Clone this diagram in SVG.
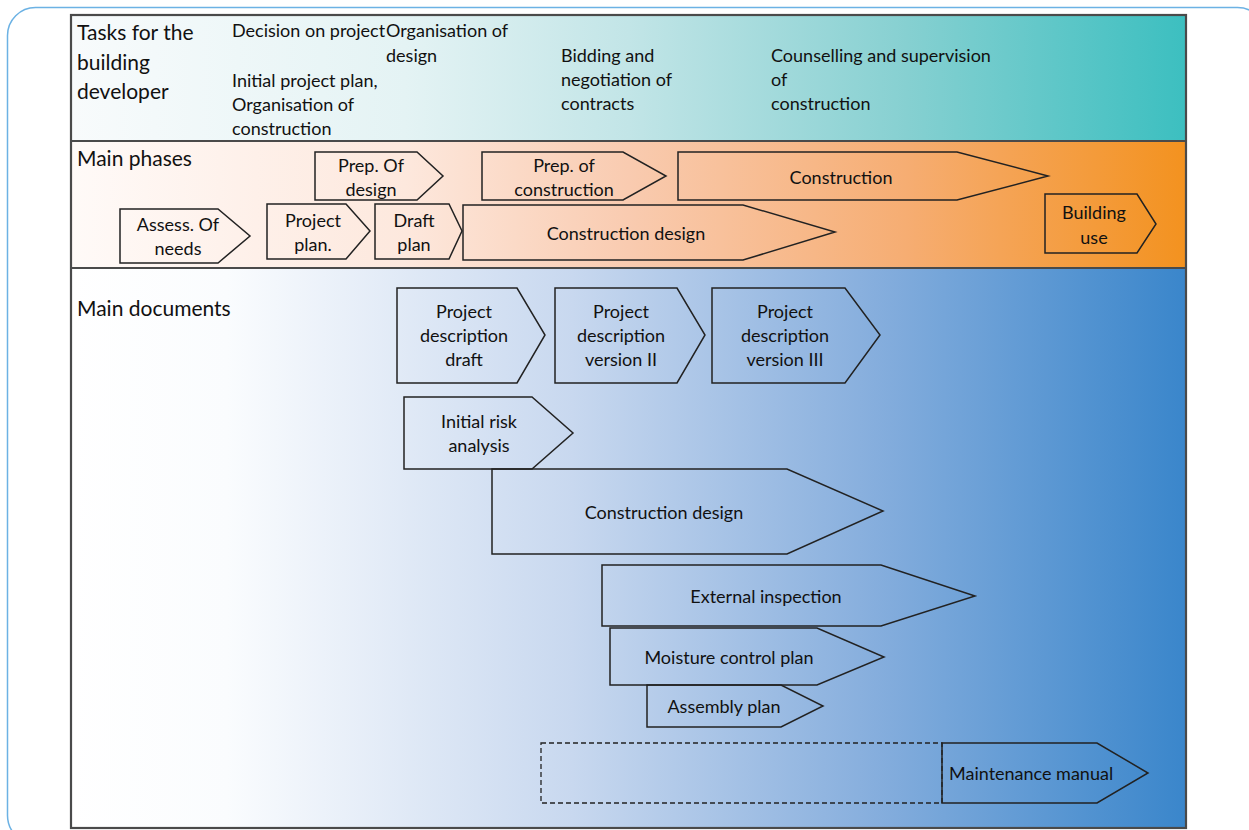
<svg xmlns="http://www.w3.org/2000/svg" width="1249" height="830" viewBox="0 0 1249 830">
<defs>
<linearGradient id="gTeal" gradientUnits="userSpaceOnUse" x1="71" y1="0" x2="1186" y2="0">
<stop offset="0" stop-color="#f8fbfc"/><stop offset="0.3" stop-color="#e4f3f4"/><stop offset="0.5" stop-color="#c2e5e7"/><stop offset="0.75" stop-color="#86d0d1"/><stop offset="1" stop-color="#3cbfc0"/>
</linearGradient>
<linearGradient id="gOrange" gradientUnits="userSpaceOnUse" x1="71" y1="0" x2="1186" y2="0">
<stop offset="0" stop-color="#fffaf8"/><stop offset="0.3" stop-color="#fde8dd"/><stop offset="0.5" stop-color="#f9cbb0"/><stop offset="0.75" stop-color="#f6ad72"/><stop offset="1" stop-color="#f3921f"/>
</linearGradient>
<linearGradient id="gBlue" gradientUnits="userSpaceOnUse" x1="71" y1="0" x2="1186" y2="0">
<stop offset="0" stop-color="#ffffff"/><stop offset="0.14" stop-color="#fafcfe"/><stop offset="0.45" stop-color="#c8d8ef"/><stop offset="0.72" stop-color="#86aedd"/><stop offset="1" stop-color="#3a86cb"/>
</linearGradient>
</defs>
<style>
text{font-family:Lato,"Liberation Sans",sans-serif;fill:#111;font-size:18px}
.h{font-size:21px}
.c{text-anchor:middle}
.s{fill:none;stroke:#222;stroke-width:1.5;stroke-linejoin:miter}
.d{fill:none;stroke:#222;stroke-width:1.3;stroke-dasharray:5 3}
</style>
<rect x="0" y="0" width="1249" height="830" fill="#ffffff"/>
<rect x="7.5" y="7.5" width="1258" height="836" rx="28" fill="none" stroke="#6cb2e4" stroke-width="1.5"/>
<g id="bands">
<rect x="71" y="15" width="1115" height="126" fill="url(#gTeal)"/>
<rect x="71" y="141" width="1115" height="127" fill="url(#gOrange)"/>
<rect x="71" y="268" width="1115" height="560" fill="url(#gBlue)"/>
<rect x="71" y="15" width="1115" height="813" fill="none" stroke="#4a4a4a" stroke-width="2.2"/>
<line x1="71" y1="141" x2="1186" y2="141" stroke="#4a4a4a" stroke-width="2"/>
<line x1="71" y1="268" x2="1186" y2="268" stroke="#4a4a4a" stroke-width="2"/>
</g>
<g id="tasks">
<text class="h" x="77" y="40">Tasks for the</text>
<text class="h" x="77" y="70">building</text>
<text class="h" x="77" y="99">developer</text>
<text x="232" y="37">Decision on project</text>
<text x="386" y="37">Organisation of</text>
<text x="386" y="62">design</text>
<text x="232" y="87">Initial project plan,</text>
<text x="232" y="111">Organisation of</text>
<text x="232" y="135">construction</text>
<text x="561" y="62">Bidding and</text>
<text x="561" y="86">negotiation of</text>
<text x="561" y="110">contracts</text>
<text x="771" y="62">Counselling and supervision</text>
<text x="771" y="86">of</text>
<text x="771" y="110">construction</text>
</g>
<g id="phases">
<text class="h" x="77" y="166">Main phases</text>
<g id="p-assess"><polygon class="s" points="120,209 218,209 250,236 218,263 120,263"/><text class="c" x="178" y="231">Assess. Of</text><text class="c" x="178" y="255">needs</text></g>
<g id="p-project"><polygon class="s" points="267,204 346,204 370,231 346,259 267,259"/><text class="c" x="313" y="227">Project</text><text class="c" x="313" y="251">plan.</text></g>
<g id="p-draft"><polygon class="s" points="375,204 449,204 462,231 449,259 375,259"/><text class="c" x="414" y="227">Draft</text><text class="c" x="414" y="251">plan</text></g>
<g id="p-prepdesign"><polygon class="s" points="315,152 417,152 443,176 417,200 315,200"/><text class="c" x="371" y="172">Prep. Of</text><text class="c" x="371" y="196">design</text></g>
<g id="p-prepconstr"><polygon class="s" points="482,152 623,152 666,176 623,200 482,200"/><text class="c" x="564" y="172">Prep. of</text><text class="c" x="564" y="196">construction</text></g>
<g id="p-construction"><polygon class="s" points="678,152 957,152 1048,176 957,200 678,200"/><text class="c" x="841" y="184">Construction</text></g>
<g id="p-constrdesign"><polygon class="s" points="463,205 743,205 835,232 743,260 463,260"/><text class="c" x="626" y="240">Construction design</text></g>
<g id="p-use"><polygon class="s" points="1045,194 1137,194 1156,224 1137,253 1045,253"/><text class="c" x="1094" y="219">Building</text><text class="c" x="1094" y="244">use</text></g>
</g>
<g id="documents">
<text class="h" x="77" y="316">Main documents</text>
<g id="d-draft"><polygon class="s" points="397,288 517,288 545,335 517,383 397,383"/><text class="c" x="464" y="318">Project</text><text class="c" x="464" y="342">description</text><text class="c" x="464" y="366">draft</text></g>
<g id="d-v2"><polygon class="s" points="555,288 677,288 705,335 677,383 555,383"/><text class="c" x="621" y="318">Project</text><text class="c" x="621" y="342">description</text><text class="c" x="621" y="366">version II</text></g>
<g id="d-v3"><polygon class="s" points="712,288 845,288 880,335 845,383 712,383"/><text class="c" x="785" y="318">Project</text><text class="c" x="785" y="342">description</text><text class="c" x="785" y="366">version III</text></g>
<g id="d-risk"><polygon class="s" points="404,397 532,397 573,433 532,469 404,469"/><text class="c" x="479" y="428">Initial risk</text><text class="c" x="479" y="452">analysis</text></g>
<g id="d-constrdesign"><polygon class="s" points="492,469 787,469 883,511 787,554 492,554"/><text class="c" x="664" y="519">Construction design</text></g>
<g id="d-external"><polygon class="s" points="602,565 881,565 975,596 881,626 602,626"/><text class="c" x="766" y="603">External inspection</text></g>
<g id="d-moisture"><polygon class="s" points="610,628 817,628 884,657 817,685 610,685"/><text class="c" x="729" y="664">Moisture control plan</text></g>
<g id="d-assembly"><polygon class="s" points="647,685 781,685 823,706 781,727 647,727"/><text class="c" x="724" y="713">Assembly plan</text></g>
<g id="d-maintenance"><rect class="d" x="541" y="743" width="401" height="60"/><polygon class="s" points="942,743 1097,743 1148,773 1097,803 942,803"/><text x="949" y="780">Maintenance manual</text></g>
</g>
</svg>
